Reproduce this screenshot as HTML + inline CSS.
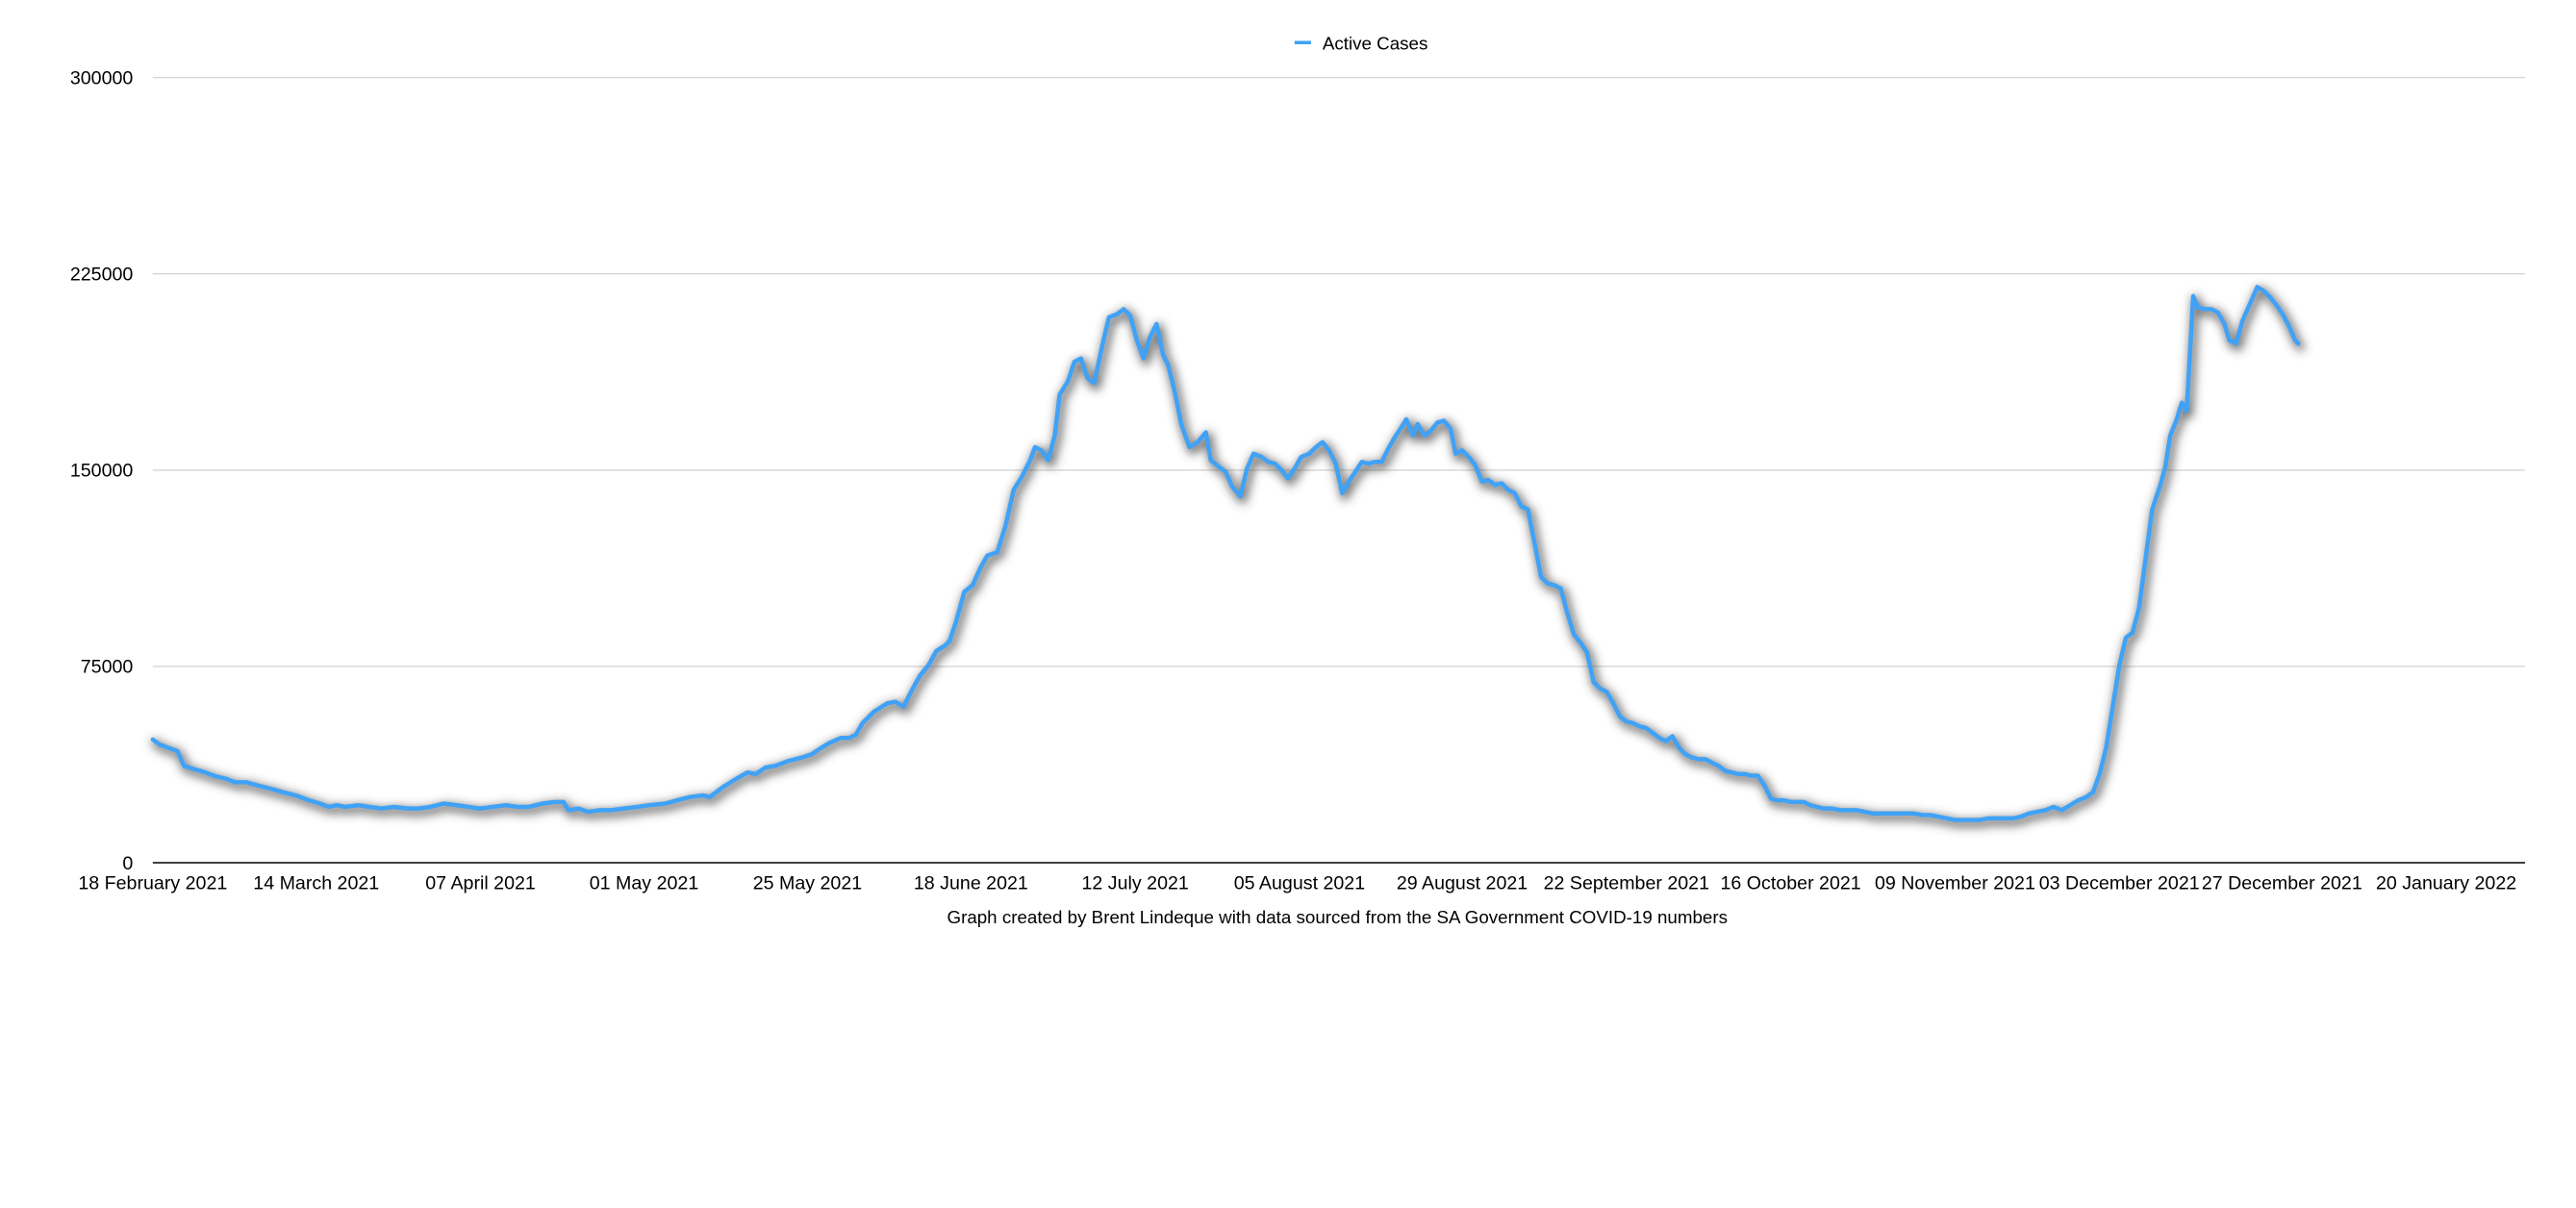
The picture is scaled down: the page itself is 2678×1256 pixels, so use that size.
<!DOCTYPE html>
<html><head><meta charset="utf-8"><style>
html,body{margin:0;padding:0;background:#fff;}
svg{display:block;}
text{font-family:"Liberation Sans",Arial,sans-serif;fill:#000;}
</style></head><body>
<svg width="2678" height="1256" viewBox="0 0 1568 735" xmlns="http://www.w3.org/2000/svg">
<defs>
<filter id="sh" x="-10%" y="-10%" width="120%" height="120%">
<feGaussianBlur stdDeviation="3"/>
</filter>
<polyline id="p" points="93,450 97,453 108,457 112,466 118,468 125,470 130,472 138,474 143,476 150,476 157,478 165,480 172,482 180,484 188,487 195,489 200,491 205,490 210,491 218,490 225,491 232,492 240,491 248,492 255,492 262,491 270,489 278,490 285,491 292,492 300,491 308,490 315,491 322,491 330,489 338,488 343,488 346,493 352,492 358,494 365,493 372,493 380,492 388,491 395,490 405,489 412,487 420,485 428,484 432,485 440,479 448,474 455,470 460,471 466,467 472,466 480,463 488,461 494,459 500,455 505,452 512,449 517,449 521,447 525,440 532,433 540,428 545,427 550,430 555,420 560,411 565,405 570,396 575,393 578,390 582,378 587,360 592,356 597,345 601,338 607,336 612,320 617,298 622,290 627,280 630,272 634,274 638,280 642,265 645,240 650,232 654,220 658,218 662,230 666,233 671,210 675,193 680,191 684,188 688,192 692,207 696,218 700,205 704,197 708,216 711,222 715,238 719,258 724,272 729,269 734,263 737,280 742,284 746,287 750,296 755,302 759,285 763,276 768,278 772,281 776,282 780,286 784,291 788,285 792,278 797,276 801,272 805,269 809,274 813,282 817,300 821,293 825,287 829,281 833,282 837,281 841,281 845,273 849,266 853,260 856,255 860,265 863,258 867,265 871,262 875,257 879,256 883,261 886,276 890,274 894,278 898,283 902,293 906,292 910,295 914,294 918,298 922,300 926,308 930,310 934,330 938,351 942,355 946,356 950,358 954,373 958,386 962,391 966,397 970,415 974,419 978,421 982,428 986,436 990,439 994,440 998,442 1002,443 1006,446 1010,449 1014,451 1018,448 1022,455 1026,459 1030,461 1034,462 1038,462 1042,464 1046,466 1050,469 1054,470 1058,471 1062,471 1066,472 1070,472 1074,478 1078,486 1082,487 1086,487 1090,488 1094,488 1098,488 1102,490 1106,491 1110,492 1115,492 1120,493 1125,493 1130,493 1135,494 1140,495 1145,495 1150,495 1155,495 1160,495 1165,495 1170,496 1175,496 1180,497 1185,498 1190,499 1195,499 1200,499 1205,499 1210,498 1215,498 1220,498 1225,498 1230,497 1235,495 1240,494 1245,493 1250,491 1255,493 1260,490 1265,487 1270,485 1274,482 1278,471 1282,455 1286,430 1290,405 1294,388 1298,385 1302,370 1306,340 1310,310 1315,295 1318,284 1321,265 1325,255 1328,245 1331,250 1335,180 1338,187 1342,188 1346,188 1350,190 1354,197 1357,207 1361,209 1365,195 1369,186 1374,174.5 1378,177 1382,181 1386,186 1390,192 1394,200 1397,207 1399,209"/>
</defs>
<rect width="1568" height="735" fill="#fff"/>
<g stroke="#d6d6d6" stroke-width="0.8">
<line x1="93" y1="47" x2="1537" y2="47"/>
<line x1="93" y1="166.5" x2="1537" y2="166.5"/>
<line x1="93" y1="286" x2="1537" y2="286"/>
<line x1="93" y1="405.5" x2="1537" y2="405.5"/>
</g>
<line x1="93" y1="525" x2="1537" y2="525" stroke="#000" stroke-width="0.9"/>
<g font-size="11.5" text-anchor="end">
<text x="81" y="51">300000</text>
<text x="81" y="170.5">225000</text>
<text x="81" y="290">150000</text>
<text x="81" y="409.5">75000</text>
<text x="81" y="529">0</text>
</g>
<g font-size="11.5" text-anchor="middle">
<text x="93" y="541">18 February 2021</text>
<text x="192.5" y="541">14 March 2021</text>
<text x="292.5" y="541">07 April 2021</text>
<text x="392" y="541">01 May 2021</text>
<text x="491.5" y="541">25 May 2021</text>
<text x="591" y="541">18 June 2021</text>
<text x="691" y="541">12 July 2021</text>
<text x="791" y="541">05 August 2021</text>
<text x="890" y="541">29 August 2021</text>
<text x="990" y="541">22 September 2021</text>
<text x="1090" y="541">16 October 2021</text>
<text x="1190" y="541">09 November 2021</text>
<text x="1290" y="541">03 December 2021</text>
<text x="1389" y="541">27 December 2021</text>
<text x="1489" y="541">20 January 2022</text>
<text x="814" y="562" font-size="11">Graph created by Brent Lindeque with data sourced from the SA Government COVID-19 numbers</text>
</g>
<line x1="788" y1="25.7" x2="798" y2="25.7" stroke="#3fa2f7" stroke-width="2"/>
<text x="805" y="30" font-size="11">Active Cases</text>
<g fill="none" stroke-linejoin="round" stroke-linecap="round">
<g filter="url(#sh)" transform="translate(1.5,2)">
<use href="#p" stroke="#444" stroke-opacity="0.75" stroke-width="5"/>
</g>
<use href="#p" stroke="#3fa2f7" stroke-width="2.6"/>
</g>
</svg>
</body></html>
